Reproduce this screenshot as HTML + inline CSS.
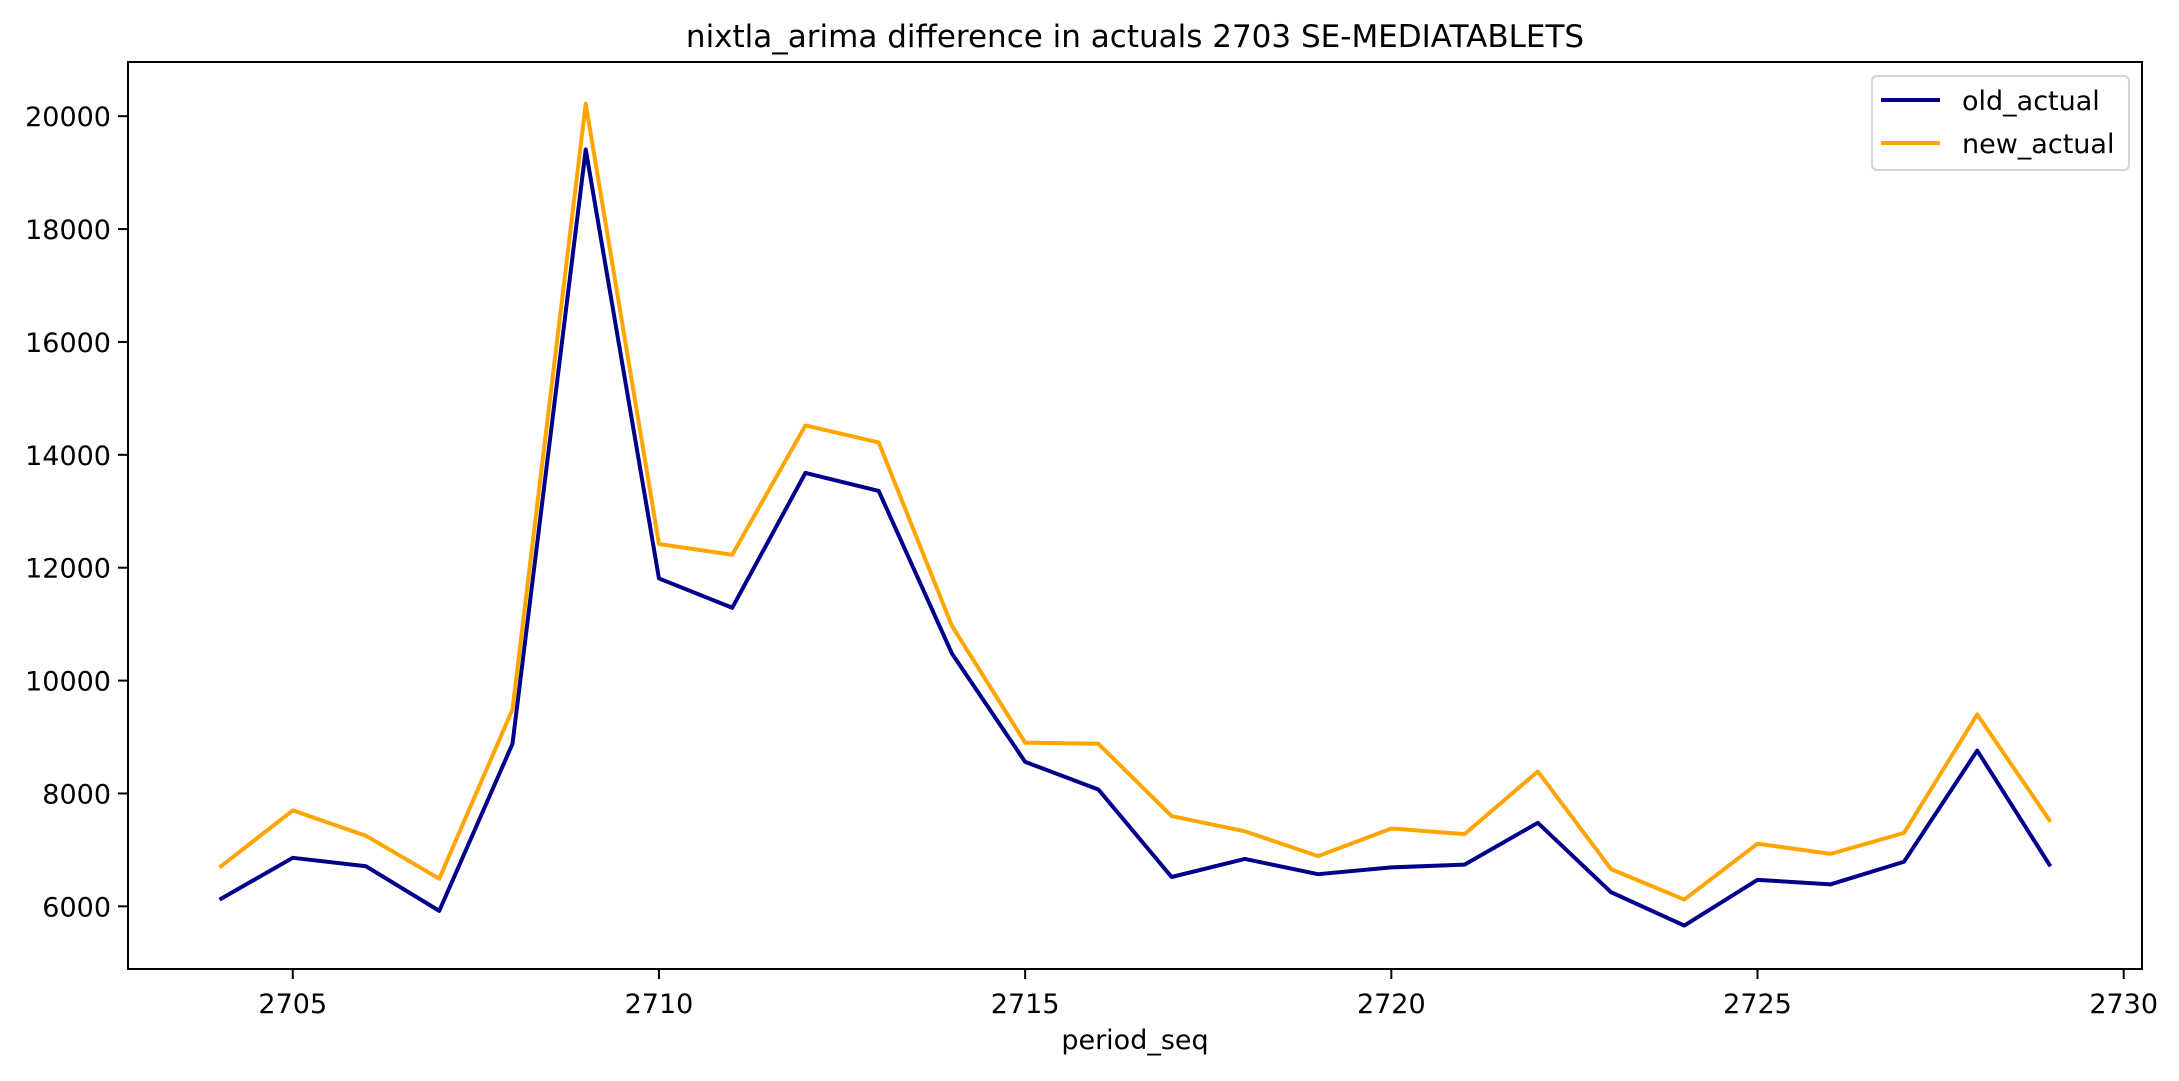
<!DOCTYPE html>
<html><head><meta charset="utf-8"><style>
body{margin:0;background:#fff}
svg text{font-family:"DejaVu Sans","Liberation Sans",sans-serif;fill:#000}
</style></head><body>
<svg id="chart" width="2179" height="1076" xmlns="http://www.w3.org/2000/svg">
<rect width="2179" height="1076" fill="#fff"/>
<text x="1135" y="47" font-size="31" text-anchor="middle">nixtla_arima difference in actuals 2703 SE-MEDIATABLETS</text>
<g id="series"></g>
<rect x="128" y="62" width="2014" height="907" fill="none" stroke="#000" stroke-width="2"/>
<g id="axes"></g>
<text x="1135" y="1049" font-size="27" text-anchor="middle">period_seq</text>
<g>
<rect x="1872" y="76" width="257" height="94" rx="5" fill="#fff" stroke="#d5d5d5" stroke-width="2"/>
<line x1="1881" y1="100" x2="1940" y2="100" stroke="#00008b" stroke-width="4"/>
<text x="1962" y="110" font-size="27">old_actual</text>
<line x1="1881" y1="143" x2="1940" y2="143" stroke="#ffa500" stroke-width="4"/>
<text x="1962" y="153" font-size="27">new_actual</text>
</g>
</svg>
<script>
const periods = [2704,2705,2706,2707,2708,2709,2710,2711,2712,2713,2714,2715,2716,2717,2718,2719,2720,2721,2722,2723,2724,2725,2726,2727,2728,2729];
const oldActual = [6120,6860,6710,5920,8880,19410,11810,11290,13680,13360,10480,8560,8070,6520,6840,6570,6690,6740,7480,6250,5660,6470,6390,6790,8760,6710];
const newActual = [6690,7700,7250,6490,9490,20220,12420,12230,14520,14220,10970,8900,8880,7600,7330,6890,7380,7280,8390,6660,6120,7110,6930,7300,9400,7500];
const xTicks = [2705,2710,2715,2720,2725,2730];
const yTicks = [6000,8000,10000,12000,14000,16000,18000,20000];

const NS='http://www.w3.org/2000/svg';
const L=128,R=2142,T=62,B=969;
const xMin=2702.75,xMax=2730.25,yMin=4890,yMax=20960;
const xs=v=>L+(v-xMin)/(xMax-xMin)*(R-L);
const ys=v=>B-(v-yMin)/(yMax-yMin)*(B-T);
function mk(tag,attrs,parent){const e=document.createElementNS(NS,tag);for(const k in attrs)e.setAttribute(k,attrs[k]);parent.appendChild(e);return e;}
const axes=document.getElementById('axes');
xTicks.forEach(t=>{
  const l=mk('line',{x1:xs(t),x2:xs(t),y1:B,y2:B+10,stroke:'#000','stroke-width':2},axes);
  
  
  const tx=mk('text',{x:xs(t),y:B+44,'font-size':27,'text-anchor':'middle'},axes);
  tx.textContent=t;
  
  
});
yTicks.forEach(t=>{
  const l=mk('line',{x1:L-10,x2:L,y1:ys(t),y2:ys(t),stroke:'#000','stroke-width':2},axes);
  
  
  const tx=mk('text',{x:L-17,y:ys(t)+10,'font-size':27,'text-anchor':'end'},axes);
  tx.textContent=t;
  
  
});
const sg=document.getElementById('series');
function line(vals,color,name){
  const p=mk('polyline',{points:vals.map((v,i)=>xs(periods[i])+','+ys(v)).join(' '),fill:'none',stroke:color,'stroke-width':4,'stroke-linejoin':'round'},sg);
  
  
}
line(oldActual,'#00008b','old-actual-line');
line(newActual,'#ffa500','new-actual-line');
</script>
</body></html>
